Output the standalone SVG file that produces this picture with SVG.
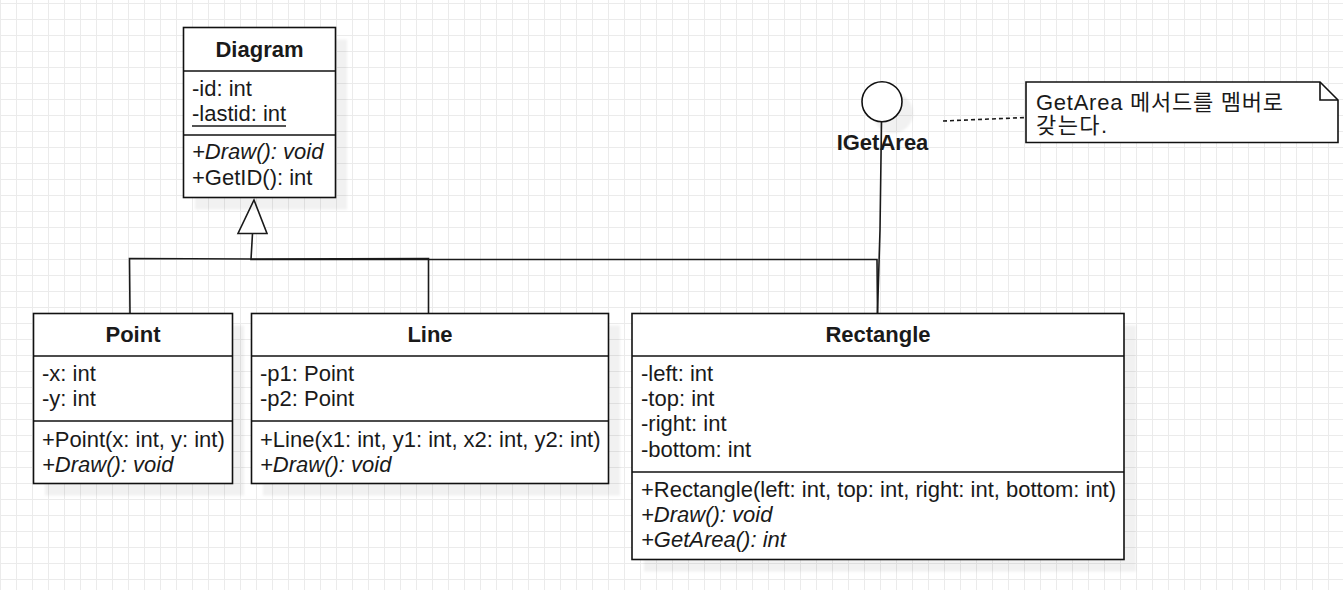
<svg xmlns="http://www.w3.org/2000/svg" width="1343" height="590" viewBox="0 0 1343 590">
<defs>
<pattern id="grid" width="16" height="16" patternUnits="userSpaceOnUse" x="0" y="3">
<path d="M 0.5 0 V 16 M 0 0.5 H 16" fill="none" stroke="#ebebeb" stroke-width="1"/>
</pattern>
<filter id="blur" x="-10%" y="-10%" width="120%" height="120%"><feGaussianBlur stdDeviation="1"/></filter>
</defs>
<style>
.box{fill:#fff;stroke:#111;stroke-width:1.6}
.shadow{fill:#000;fill-opacity:0.055;filter:url(#blur)}
.div{stroke:#111;stroke-width:1.6}
.t{font-family:"Liberation Sans",Arial,sans-serif;font-size:22px;fill:#1a1a1a}
.title{font-weight:bold;text-anchor:middle}
.i{font-style:italic}
.edge{fill:none;stroke:#1a1a1a;stroke-width:1.6}
.note{font-family:"Liberation Sans","Noto Sans CJK KR",sans-serif;font-size:22px;fill:#1a1a1a}
</style>
<rect width="1343" height="590" fill="#fff"/>
<rect width="1343" height="590" fill="url(#grid)"/>

<g id="connectors">
<path class="edge" d="M 252.5 233.5 L 251 259.5 L 877 259.5 L 877.5 313"/>
<path class="edge" d="M 251 259 L 129.5 258.5 L 130 313"/>
<path class="edge" d="M 251 259 L 428.5 258.5 L 428.5 313"/>
<polygon points="254,200 267,233.5 238,233.5" fill="#fff" stroke="#1a1a1a" stroke-width="1.6" stroke-linejoin="miter"/>
<path class="edge" d="M 881.5 122 L 880 230 L 877.5 313"/>
<path class="edge" d="M 943 121 L 1026 117.5" stroke-dasharray="4 3"/>
</g>

<g id="Diagram">
<rect class="shadow" x="195" y="39.5" width="152" height="170"/>
<rect class="box" x="183.5" y="27.5" width="152" height="170"/>
<line class="div" x1="183.5" y1="71" x2="335.5" y2="71"/>
<line class="div" x1="183.5" y1="135" x2="335.5" y2="135"/>
<text class="t title" x="259.5" y="57">Diagram</text>
<text class="t" x="192" y="96">-id: int</text>
<text class="t" x="192" y="121">-lastid: int</text>
<line x1="192" y1="126" x2="286" y2="126" stroke="#1a1a1a" stroke-width="1.4"/>
<text class="t i" x="192" y="159">+Draw(): void</text>
<text class="t" x="192" y="185">+GetID(): int</text>
</g>

<g id="Point">
<rect class="shadow" x="45" y="325.5" width="199" height="170"/>
<rect class="box" x="33.5" y="313.5" width="199" height="170"/>
<line class="div" x1="33.5" y1="356" x2="232.5" y2="356"/>
<line class="div" x1="33.5" y1="421" x2="232.5" y2="421"/>
<text class="t title" x="133" y="342">Point</text>
<text class="t" x="42" y="381">-x: int</text>
<text class="t" x="42" y="406">-y: int</text>
<text class="t" x="42" y="447">+Point(x: int, y: int)</text>
<text class="t i" x="42" y="472">+Draw(): void</text>
</g>

<g id="Line">
<rect class="shadow" x="263" y="325.5" width="357" height="170"/>
<rect class="box" x="251.5" y="313.5" width="357" height="170"/>
<line class="div" x1="251.5" y1="356" x2="608.5" y2="356"/>
<line class="div" x1="251.5" y1="421" x2="608.5" y2="421"/>
<text class="t title" x="430" y="342">Line</text>
<text class="t" x="260" y="381">-p1: Point</text>
<text class="t" x="260" y="406">-p2: Point</text>
<text class="t" x="260" y="447">+Line(x1: int, y1: int, x2: int, y2: int)</text>
<text class="t i" x="260" y="472">+Draw(): void</text>
</g>

<g id="Rectangle">
<rect class="shadow" x="644" y="325.5" width="492" height="246"/>
<rect class="box" x="632" y="313.5" width="492" height="246"/>
<line class="div" x1="632" y1="356" x2="1124" y2="356"/>
<line class="div" x1="632" y1="472" x2="1124" y2="472"/>
<text class="t title" x="878" y="342">Rectangle</text>
<text class="t" x="641" y="381">-left: int</text>
<text class="t" x="641" y="406">-top: int</text>
<text class="t" x="641" y="431">-right: int</text>
<text class="t" x="641" y="457">-bottom: int</text>
<text class="t" x="641" y="497">+Rectangle(left: int, top: int, right: int, bottom: int)</text>
<text class="t i" x="641" y="522">+Draw(): void</text>
<text class="t i" x="641" y="547">+GetArea(): int</text>
</g>

<g id="IGetArea">
<circle cx="893" cy="113" r="20" fill="#000" fill-opacity="0.055" filter="url(#blur)"/>
<circle cx="882" cy="101.7" r="20" fill="#fff" stroke="#111" stroke-width="1.6"/>
<text class="t title" x="882.5" y="150">IGetArea</text>
</g>

<g id="note">
<path d="M 1026 82 H 1320 L 1338 100 V 142.5 H 1026 Z" fill="#fff" stroke="#111" stroke-width="1.6"/>
<path d="M 1320 82 V 100 H 1338" fill="none" stroke="#111" stroke-width="1.6"/>
<text class="note" x="1036" y="110" textLength="247" lengthAdjust="spacing">GetArea 메서드를 멤버로</text>
<text class="note" x="1036" y="133" textLength="71" lengthAdjust="spacing">갖는다.</text>
</g>
</svg>
